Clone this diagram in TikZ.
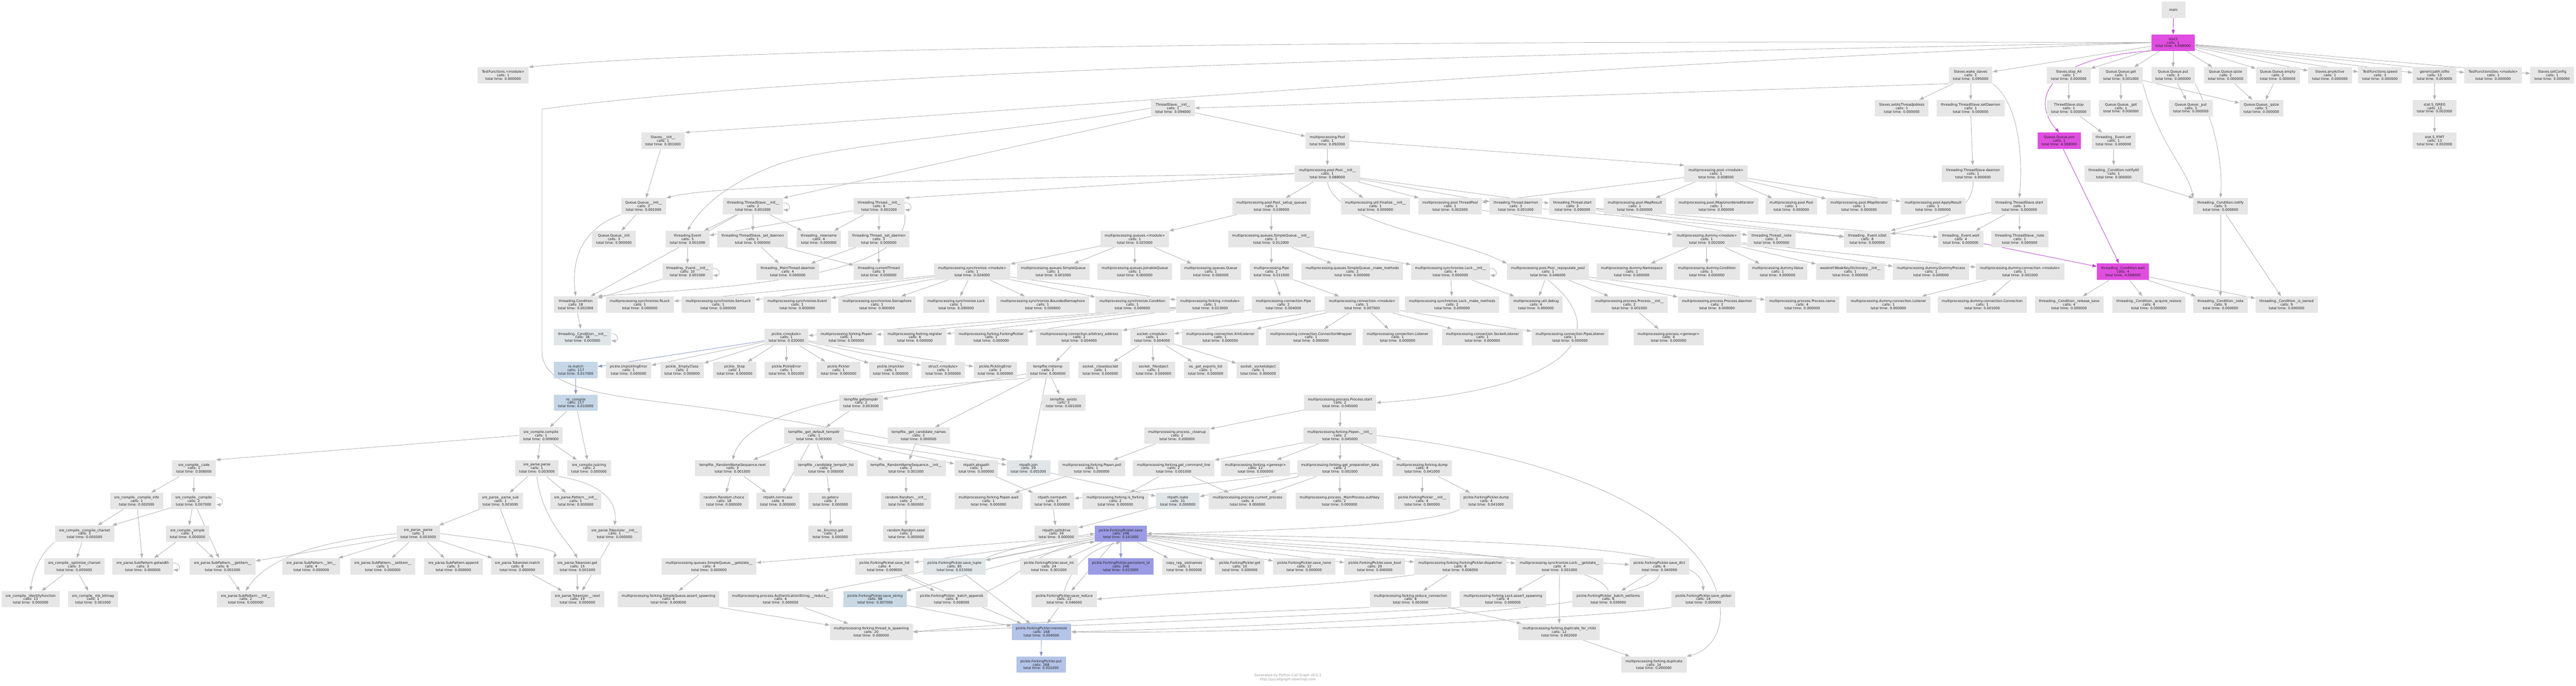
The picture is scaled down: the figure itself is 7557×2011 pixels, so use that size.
\documentclass[tikz,border=0pt]{standalone}
\usepackage{fontspec}
\setmainfont{DejaVu Sans}
\usetikzlibrary{arrows.meta}
\definecolor{ng}{RGB}{230,230,230}
\definecolor{nb}{RGB}{224,229,231}
\definecolor{nm}{RGB}{224,78,224}
\definecolor{nblue}{RGB}{197,214,230}
\definecolor{nper}{RGB}{180,196,232}
\definecolor{npur}{RGB}{155,155,228}
\definecolor{nsb}{RGB}{201,217,228}
\definecolor{eg}{RGB}{178,178,178}
\definecolor{emc}{RGB}{184,70,204}
\definecolor{ebl}{RGB}{140,150,200}
\definecolor{tx}{RGB}{30,30,30}
\pgfdeclarelayer{bg}
\pgfsetlayers{bg,main}
\tikzset{
 fn/.style={rectangle, fill=ng, draw=none, minimum height=24pt, minimum width=36pt, inner xsep=6pt, inner ysep=2pt, align=center, font=\fontsize{5}{5.15}\selectfont, text=tx},
 e/.style={draw=eg, line width=0.65pt, -{Triangle[length=6.5pt,width=4.6pt]}},
 em/.style={e, draw=emc},
 eb/.style={e, draw=ebl},
}
\newcommand\cg[7][ng]{\node[fn, fill=#1] (#2) at (#3,#4) {\detokenize{#5}\\calls: #6\\total time: #7};}
\newcommand\selfloop[1]{\draw[e] ([yshift=5pt]#1.east) .. controls +(11pt,1pt) and +(11pt,-1pt) .. ([yshift=-5pt]#1.east);}
\begin{document}
\begin{tikzpicture}[x=0.5pt,y=-0.5pt]
\useasboundingbox (0,0) rectangle (7557,2011);
% row 0-1
\node[fn, minimum width=35pt] (main) at (6376,29) {main};
\cg[nm]{test3}{6375}{125}{test3}{1}{4.698000}
% row 2
\cg{tfmod}{1476}{221}{TestFunctions.<module>}{1}{0.000000}
\cg{wake}{5781}{221}{Slaves.wake_slaves}{1}{0.095000}
\cg{stopall}{6069}{221}{Slaves.stop_All}{1}{0.000000}
\cg{qget}{6222}{221}{Queue.Queue.get}{1}{0.001000}
\cg{qput}{6375}{221}{Queue.Queue.put}{3}{0.000000}
\cg{qqsize}{6529}{221}{Queue.Queue.qsize}{2}{0.000000}
\cg{qempty}{6682}{221}{Queue.Queue.empty}{2}{0.000000}
\cg{anyact}{6835}{221}{Slaves.anyActive}{1}{0.000000}
\cg{speed}{6982}{221}{TestFunctions.speed}{3}{0.000000}
\cg{isfile}{7142}{221}{genericpath.isfile}{13}{0.003000}
\cg{tfgeo}{7314}{221}{TestFunctionsGeo.<module>}{1}{0.000000}
\cg{setcfg}{7487}{221}{Slaves.setConfig}{1}{0.000000}
% row 3
\cg{tsinit}{3441}{317}{ThreadSlave.__init__}{1}{0.094000}
\cg{jobless}{5579}{317}{Slaves.setAsThreadJobless}{1}{0.000000}
\cg{tssetd}{5781}{317}{threading.ThreadSlave.setDaemon}{1}{0.000000}
\cg{tsstop}{6069}{317}{ThreadSlave.stop}{1}{0.000000}
\cg{qgetp}{6222}{317}{Queue.Queue._get}{1}{0.000000}
\cg{qputp}{6427}{317}{Queue.Queue._put}{3}{0.000000}
\cg{qqsizep}{6634}{317}{Queue.Queue._qsize}{5}{0.000000}
\cg{isreg}{7142}{317}{stat.S_ISREG}{13}{0.002000}
% row 4
\cg{slinit}{1945}{413}{Slaves.__init__}{1}{0.001000}
\cg{mpPool}{3894}{413}{multiprocessing.Pool}{1}{0.092000}
\cg[nm]{qjoin}{6041}{413}{Queue.Queue.join}{1}{4.588000}
\cg{evset}{6200}{413}{threading._Event.set}{1}{0.000000}
\cg{ifmt}{7142}{413}{stat.S_IFMT}{13}{0.002000}
% row 5
\cg{poolinit}{3894}{509}{multiprocessing.pool.Pool.__init__}{1}{0.088000}
\cg{poolmod}{5034}{509}{multiprocessing.pool.<module>}{1}{0.008000}
\cg{tsdaemon}{5788}{509}{threading.ThreadSlave.daemon}{1}{0.000000}
\cg{notifyall}{6201}{509}{threading._Condition.notifyAll}{1}{0.000000}
% row 6
\cg{qqinit}{1888}{605}{Queue.Queue.__init__}{3}{0.001000}
\cg{thtsinit}{2209}{605}{threading.ThreadSlave.__init__}{2}{0.001000}
\cg{thinit}{2579}{605}{threading.Thread.__init__}{6}{0.001000}
\cg{setupq}{3730}{605}{multiprocessing.pool.Pool._setup_queues}{1}{0.039000}
\cg{finalize}{4035}{605}{multiprocessing.util.Finalize.__init__}{1}{0.000000}
\cg{threadpool}{4254}{605}{multiprocessing.pool.ThreadPool}{1}{0.002000}
\cg{thdaemon}{4447}{605}{threading.Thread.daemon}{3}{0.001000}
\cg{thstart}{4613}{605}{threading.Thread.start}{3}{0.000000}
\cg{mapres}{4796}{605}{multiprocessing.pool.MapResult}{1}{0.000000}
\cg{imapun}{5035}{605}{multiprocessing.pool.IMapUnorderedIterator}{1}{0.000000}
\cg{poolpool}{5255}{605}{multiprocessing.pool.Pool}{1}{0.000000}
\cg{imapit}{5454}{605}{multiprocessing.pool.IMapIterator}{1}{0.000000}
\cg{applyres}{5671}{605}{multiprocessing.pool.ApplyResult}{1}{0.000000}
\cg{tsstart}{5924}{605}{threading.ThreadSlave.start}{1}{0.000000}
\cg{notify}{6514}{605}{threading._Condition.notify}{5}{0.000000}
% row 7
\cg{qqinitp}{1801}{701}{Queue.Queue._init}{3}{0.000000}
\cg{thevent}{2017}{701}{threading.Event}{5}{0.001000}
\cg{tssetdp}{2208}{701}{threading.ThreadSlave._set_daemon}{1}{0.000000}
\cg{newname}{2402}{701}{threading._newname}{4}{0.000000}
\cg{thsetd}{2578}{701}{threading.Thread._set_daemon}{3}{0.000000}
\cg{queuesmod}{3329}{701}{multiprocessing.queues.<module>}{1}{0.025000}
\cg{sqinit}{3729}{701}{multiprocessing.queues.SimpleQueue.__init__}{2}{0.012000}
\cg{dummymod}{5007}{701}{multiprocessing.dummy.<module>}{1}{0.002000}
\cg{thnote}{5197}{701}{threading.Thread._note}{3}{0.000000}
\cg{isset}{5478}{701}{threading._Event.isSet}{8}{0.000000}
\cg{evwait}{5752}{701}{threading._Event.wait}{4}{0.000000}
\cg{tsnote}{5925}{701}{threading.ThreadSlave._note}{1}{0.000000}
% row 8
\cg{evinit}{2017}{797}{threading._Event.__init__}{10}{0.001000}
\cg{mtdaemon}{2311}{797}{threading._MainThread.daemon}{4}{0.000000}
\cg{curthread}{2578}{797}{threading.currentThread}{5}{0.000000}
\cg{syncmod}{2852}{797}{multiprocessing.synchronize.<module>}{1}{0.024000}
\cg{simpleq}{3090}{797}{multiprocessing.queues.SimpleQueue}{1}{0.001000}
\cg{joinq}{3329}{797}{multiprocessing.queues.JoinableQueue}{1}{0.000000}
\cg{queueq}{3552}{797}{multiprocessing.queues.Queue}{1}{0.000000}
\cg{mppipe}{3730}{797}{multiprocessing.Pipe}{2}{0.011000}
\cg{sqmake}{3967}{797}{multiprocessing.queues.SimpleQueue._make_methods}{2}{0.000000}
\cg{lockinit}{4255}{797}{multiprocessing.synchronize.Lock.__init__}{4}{0.000000}
\cg{repop}{4541}{797}{multiprocessing.pool.Pool._repopulate_pool}{1}{0.046000}
\cg{dnamespace}{4787}{797}{multiprocessing.dummy.Namespace}{1}{0.000000}
\cg{dcond}{5007}{797}{multiprocessing.dummy.Condition}{1}{0.000000}
\cg{dvalue}{5215}{797}{multiprocessing.dummy.Value}{1}{0.000000}
\cg{wkd}{5428}{797}{weakref.WeakKeyDictionary.__init__}{1}{0.000000}
\cg{dproc}{5665}{797}{multiprocessing.dummy.DummyProcess}{1}{0.000000}
\cg{dconnmod}{5926}{797}{multiprocessing.dummy.connection.<module>}{1}{0.001000}
\cg[nm]{condwait}{6228}{797}{threading._Condition.wait}{4}{4.588000}
% row 9
\cg{thcond}{1689}{893}{threading.Condition}{18}{0.002000}
\cg{rlock}{1877}{893}{multiprocessing.synchronize.RLock}{1}{0.000000}
\cg{semlock}{2107}{893}{multiprocessing.synchronize.SemLock}{1}{0.000000}
\cg{syncevent}{2339}{893}{multiprocessing.synchronize.Event}{1}{0.000000}
\cg{sema}{2573}{893}{multiprocessing.synchronize.Semaphore}{1}{0.000000}
\cg{synclock}{2805}{893}{multiprocessing.synchronize.Lock}{1}{0.000000}
\cg{bsema}{3059}{893}{multiprocessing.synchronize.BoundedSemaphore}{1}{0.000000}
\cg{synccond}{3322}{893}{multiprocessing.synchronize.Condition}{1}{0.000000}
\cg{forkmod}{3550}{893}{multiprocessing.forking.<module>}{1}{0.023000}
\cg{connpipe}{3765}{893}{multiprocessing.connection.Pipe}{2}{0.004000}
\cg{connmod}{3996}{893}{multiprocessing.connection.<module>}{1}{0.007000}
\cg{lockmake}{4260}{893}{multiprocessing.synchronize.Lock._make_methods}{2}{0.000000}
\cg{udebug}{4506}{893}{multiprocessing.util.debug}{4}{0.000000}
\cg{procinit}{4780}{893}{multiprocessing.process.Process.__init__}{2}{0.001000}
\cg{procdaemon}{5037}{893}{multiprocessing.process.Process.daemon}{2}{0.000000}
\cg{procname}{5287}{893}{multiprocessing.process.Process.name}{4}{0.000000}
\cg{dlistener}{5540}{893}{multiprocessing.dummy.connection.Listener}{1}{0.000000}
\cg{dconn}{5815}{893}{multiprocessing.dummy.connection.Connection}{1}{0.001000}
\cg{relsave}{6070}{893}{threading._Condition._release_save}{4}{0.000000}
\cg{acqrest}{6304}{893}{threading._Condition._acquire_restore}{4}{0.000000}
\cg{condnote}{6514}{893}{threading._Condition._note}{9}{0.000000}
\cg{isowned}{6708}{893}{threading._Condition._is_owned}{9}{0.000000}
% row 10
\cg[nb]{condinit}{1709}{989}{threading._Condition.__init__}{36}{0.003000}
\cg{picklemod}{2307}{989}{pickle.<module>}{1}{0.020000}
\cg{popen}{2483}{989}{multiprocessing.forking.Popen}{1}{0.000000}
\cg{register}{2684}{989}{multiprocessing.forking.register}{6}{0.000000}
\cg{fpickler}{2908}{989}{multiprocessing.forking.ForkingPickler}{1}{0.000000}
\cg{arbaddr}{3166}{989}{multiprocessing.connection.arbitrary_address}{2}{0.004000}
\cg{socketmod}{3380}{989}{socket.<module>}{1}{0.004000}
\cg{xmllist}{3580}{989}{multiprocessing.connection.XmlListener}{1}{0.000000}
\cg{connwrap}{3846}{989}{multiprocessing.connection.ConnectionWrapper}{1}{0.000000}
\cg{listener}{4100}{989}{multiprocessing.connection.Listener}{1}{0.000000}
\cg{socklist}{4349}{989}{multiprocessing.connection.SocketListener}{1}{0.000000}
\cg{pipelist}{4606}{989}{multiprocessing.connection.PipeListener}{1}{0.000000}
\cg{procgen}{4895}{989}{multiprocessing.process.<genexpr>}{4}{0.000000}
% row 11
\cg[nblue]{rematch}{1689}{1085}{re.match}{117}{0.017000}
\cg{unpickerr}{1844}{1085}{pickle.UnpicklingError}{1}{0.000000}
\cg{emptycls}{2001}{1085}{pickle._EmptyClass}{1}{0.000000}
\cg{pstop}{2155}{1085}{pickle._Stop}{1}{0.000000}
\cg{pickerr}{2307}{1085}{pickle.PickleError}{1}{0.001000}
\cg{pickler}{2460}{1085}{pickle.Pickler}{1}{0.000000}
\cg{unpickler}{2613}{1085}{pickle.Unpickler}{1}{0.000000}
\cg{structmod}{2767}{1085}{struct.<module>}{1}{0.000000}
\cg{picklingerr}{2920}{1085}{pickle.PicklingError}{1}{0.000000}
\cg{mktemp}{3074}{1085}{tempfile.mktemp}{2}{0.004000}
\cg{closedsock}{3228}{1085}{socket._closedsocket}{1}{0.000000}
\cg{fileobj}{3384}{1085}{socket._fileobject}{1}{0.000000}
\cg{getexports}{3537}{1085}{os._get_exports_list}{1}{0.000000}
\cg{sockobj}{3691}{1085}{socket._socketobject}{1}{0.000000}
% row 12
\cg[nblue]{recompile}{1689}{1181}{re._compile}{117}{0.010000}
\cg{gettempdir}{2526}{1181}{tempfile.gettempdir}{2}{0.003000}
\cg{texists}{3120}{1181}{tempfile._exists}{2}{0.001000}
\cg{procstart}{3931}{1181}{multiprocessing.process.Process.start}{2}{0.045000}
% row 13
\cg{srecompile}{1587}{1277}{sre_compile.compile}{1}{0.009000}
\cg{defaulttmp}{2388}{1277}{tempfile._get_default_tempdir}{1}{0.003000}
\cg{candnames}{2695}{1277}{tempfile._get_candidate_names}{2}{0.000000}
\cg{cleanup}{3453}{1277}{multiprocessing.process._cleanup}{2}{0.000000}
\cg{popeninit}{3931}{1277}{multiprocessing.forking.Popen.__init__}{2}{0.045000}
% row 14
\cg{srecode}{569}{1373}{sre_compile._code}{1}{0.006000}
\cg{sreparse}{1575}{1373}{sre_parse.parse}{1}{0.003000}
\cg{isstring}{1728}{1373}{sre_compile.isstring}{2}{0.000000}
\cg{rnsnext}{2149}{1373}{tempfile._RandomNameSequence.next}{3}{0.001000}
\cg{candlist}{2423}{1373}{tempfile._candidate_tempdir_list}{1}{0.000000}
\cg{rnsinit}{2658}{1373}{tempfile._RandomNameSequence.__init__}{2}{0.001000}
\cg{abspath}{2864}{1373}{ntpath.abspath}{1}{0.000000}
\cg[nb]{npjoin}{3017}{1373}{ntpath.join}{29}{0.001000}
\cg{ppoll}{3203}{1373}{multiprocessing.forking.Popen.poll}{1}{0.000000}
\cg{getcmd}{3443}{1373}{multiprocessing.forking.get_command_line}{2}{0.001000}
\cg{forkgen}{3683}{1373}{multiprocessing.forking.<genexpr>}{12}{0.000000}
\cg{getprep}{3931}{1373}{multiprocessing.forking.get_preparation_data}{2}{0.001000}
\cg{forkdump}{4172}{1373}{multiprocessing.forking.dump}{4}{0.041000}
% row 15
\cg{compinfo}{401}{1469}{sre_compile._compile_info}{1}{0.002000}
\cg{srecomp}{568}{1469}{sre_compile._compile}{2}{0.007000}
\cg{parsesub}{1468}{1469}{sre_parse._parse_sub}{1}{0.003000}
\cg{patinit}{1689}{1469}{sre_parse.Pattern.__init__}{1}{0.000000}
\cg{rchoice}{2124}{1469}{random.Random.choice}{18}{0.000000}
\cg{normcase}{2282}{1469}{ntpath.normcase}{4}{0.000000}
\cg{getenv}{2436}{1469}{os.getenv}{3}{0.000000}
\cg{rinit}{2658}{1469}{random.Random.__init__}{2}{0.000000}
\cg{pwait}{2900}{1469}{multiprocessing.forking.Popen.wait}{1}{0.000000}
\cg{normpath}{3087}{1469}{ntpath.normpath}{3}{0.000000}
\cg{isforking}{3272}{1469}{multiprocessing.forking.is_forking}{2}{0.000000}
\cg[nb]{isabs}{3455}{1469}{ntpath.isabs}{31}{0.000000}
\cg{curproc}{3660}{1469}{multiprocessing.process.current_process}{4}{0.000000}
\cg{authkey}{3930}{1469}{multiprocessing.process._MainProcess.authkey}{2}{0.000000}
\cg{fpinit}{4172}{1469}{pickle.ForkingPickler.__init__}{4}{0.000000}
\cg{fpdump}{4360}{1469}{pickle.ForkingPickler.dump}{4}{0.041000}
% row 16
\cg{charset}{248}{1565}{sre_compile._compile_charset}{3}{0.005000}
\cg{simple}{550}{1565}{sre_compile._simple}{1}{0.000000}
\cg{parsep}{1227}{1565}{sre_parse._parse}{1}{0.003000}
\cg{tokinit}{1803}{1565}{sre_parse.Tokenizer.__init__}{1}{0.000000}
\cg{envget}{2436}{1565}{os._Environ.get}{3}{0.000000}
\cg{rseed}{2658}{1565}{random.Random.seed}{2}{0.000000}
\cg{splitdrive}{3099}{1565}{ntpath.splitdrive}{34}{0.000000}
\cg[npur]{fpsave}{3288}{1565}{pickle.ForkingPickler.save}{246}{0.161000}
% row 17
\cg{optcharset}{218}{1661}{sre_compile._optimize_charset}{3}{0.005000}
\cg{getwidth}{419}{1661}{sre_parse.SubPattern.getwidth}{3}{0.000000}
\cg{getitem}{653}{1661}{sre_parse.SubPattern.__getitem__}{6}{0.001000}
\cg{splen}{913}{1661}{sre_parse.SubPattern.__len__}{4}{0.000000}
\cg{setitem}{1123}{1661}{sre_parse.SubPattern.__setitem__}{1}{0.000000}
\cg{spappend}{1330}{1661}{sre_parse.SubPattern.append}{3}{0.000000}
\cg{tokmatch}{1518}{1661}{sre_parse.Tokenizer.match}{8}{0.000000}
\cg{tokget}{1694}{1661}{sre_parse.Tokenizer.get}{15}{0.001000}
\cg{sqgetstate}{2080}{1661}{multiprocessing.queues.SimpleQueue.__getstate__}{4}{0.000000}
\cg{savelist}{2595}{1661}{pickle.ForkingPickler.save_list}{4}{0.009000}
\cg[nb]{savetuple}{2800}{1661}{pickle.ForkingPickler.save_tuple}{85}{0.033000}
\cg{saveint}{3077}{1661}{pickle.ForkingPickler.save_int}{24}{0.001000}
\cg[npur]{persid}{3288}{1661}{pickle.ForkingPickler.persistent_id}{246}{0.023000}
\cg{slotnames}{3474}{1661}{copy_reg._slotnames}{1}{0.000000}
\cg{fpget}{3637}{1661}{pickle.ForkingPickler.get}{10}{0.000000}
\cg{savenone}{3826}{1661}{pickle.ForkingPickler.save_none}{12}{0.000000}
\cg{savebool}{4033}{1661}{pickle.ForkingPickler.save_bool}{20}{0.000000}
\cg{dispatcher}{4284}{1661}{multiprocessing.forking.ForkingPickler.dispatcher}{8}{0.006000}
\cg{lockgetstate}{4575}{1661}{multiprocessing.synchronize.Lock.__getstate__}{4}{0.001000}
\cg{savedict}{4868}{1661}{pickle.ForkingPickler.save_dict}{6}{0.040000}
% row 18
\cg{identity}{90}{1757}{sre_compile._identityfunction}{13}{0.000000}
\cg{mkbitmap}{273}{1757}{sre_compile._mk_bitmap}{1}{0.001000}
\cg{spinit}{721}{1757}{sre_parse.SubPattern.__init__}{2}{0.000000}
\cg{toknext}{1694}{1757}{sre_parse.Tokenizer.__next}{19}{0.000000}
\cg{sqassert}{1961}{1757}{multiprocessing.forking.SimpleQueue.assert_spawning}{4}{0.000000}
\cg{authreduce}{2290}{1757}{multiprocessing.process.AuthenticationString.__reduce__}{4}{0.000000}
\cg[nsb]{savestring}{2567}{1757}{pickle.ForkingPickler.save_string}{98}{0.007000}
\cg{batchapp}{2792}{1757}{pickle.ForkingPickler._batch_appends}{4}{0.008000}
\cg{savereduce}{3122}{1757}{pickle.ForkingPickler.save_reduce}{22}{0.046000}
\cg{reduceconn}{4138}{1757}{multiprocessing.forking.reduce_connection}{8}{0.003000}
\cg{lockassert}{4409}{1757}{multiprocessing.forking.Lock.assert_spawning}{4}{0.000000}
\cg{batchset}{4718}{1757}{pickle.ForkingPickler._batch_setitems}{6}{0.039000}
\cg{saveglobal}{4997}{1757}{pickle.ForkingPickler.save_global}{14}{0.000000}
% row 19-20
\cg{threadspawn}{2556}{1853}{multiprocessing.forking.thread_is_spawning}{20}{0.000000}
\cg[nper]{memoize}{3055}{1853}{pickle.ForkingPickler.memoize}{168}{0.004000}
\cg{dupchild}{4574}{1853}{multiprocessing.forking.duplicate_for_child}{12}{0.002000}
\cg[nper]{fpput}{3054}{1949}{pickle.ForkingPickler.put}{168}{0.001000}
\cg{duplicate}{4852}{1949}{multiprocessing.forking.duplicate}{14}{0.000000}
% caption
\node[align=center, font=\fontsize{5}{5.6}\selectfont, text={rgb,255:red,150;green,150;blue,150}] (caption) at (3778,1987) {Generated by Python Call Graph v0.5.1\\http://pycallgraph.slowchop.com};

\begin{pgfonlayer}{bg}
\fill[white] (0,0) rectangle (7557,2011);
\draw[em] (main) -- (test3);
\foreach \t in {wake,stopall,qget,qput,qqsize,qempty,anyact,speed,isfile,tfgeo,setcfg} \draw[e] (test3) -- (\t);
\draw[em] (test3.south west) .. controls (5990,170) and (5960,300) .. (qjoin.north);
\draw[e] (test3.west) .. controls (4200,118) and (2200,135) .. (tfmod.north east);
\draw[e] (test3.west) .. controls (4600,190) and (3200,310) .. (slinit.north east);
\draw[e] (test3.west) .. controls (3700,170) and (2300,226) .. (1590,320) -- (1590,1030) .. controls (1590,1150) and (1800,1160) .. (2100,1200) .. controls (2450,1250) and (2650,1300) .. (npjoin.north west);
\foreach \t in {jobless,tssetd} \draw[e] (wake) -- (\t);
\draw[e] (wake.south east) .. controls (5920,300) and (5935,450) .. (tsstart.north);
\draw[e] (wake.south west) -- (tsinit.east);
\draw[e] (stopall) -- (tsstop); \draw[e] (tsstop) -- (evset);
\foreach \t in {qgetp,qqsizep} \draw[e] (qget) -- (\t);
\draw[e] (qget.south east) .. controls (6330,420) and (6420,500) .. (notify.north west);
\draw[e] (qput) -- (qputp);
\draw[e] (qput.south east) .. controls (6500,360) and (6520,480) .. (notify.north);
\draw[e] (qqsize) -- (qqsizep); \draw[e] (qempty) -- (qqsizep);
\draw[e] (isfile) -- (isreg); \draw[e] (isreg) -- (ifmt);
\draw[em] (qjoin) -- (condwait);
\draw[e] (evset) -- (notifyall); \draw[e] (notifyall) -- (notify);
\draw[e] (tssetd) -- (tsdaemon);
\draw[e] (tsdaemon.south) .. controls (5790,640) and (5640,650) .. (isset.north east);
\foreach \t in {isset,evwait,tsnote} \draw[e] (tsstart) -- (\t);
\draw[em] (evwait) -- (condwait);
\foreach \t in {relsave,acqrest,condnote,isowned} \draw[e] (condwait) -- (\t);
\foreach \t in {condnote,isowned} \draw[e] (notify) -- (\t);
\draw[e] (tsinit) -- (mpPool);
\draw[e] (tsinit.south west) -- (thtsinit.north east);
\draw[e] (tsinit.west) .. controls (2950,390) and (2450,420) .. (2280,483) .. controls (2150,530) and (2060,600) .. (thevent.north);
\draw[e] (slinit) -- (qqinit);
\draw[e] (mpPool) -- (poolinit);
\draw[e] (mpPool.east) -- (poolmod.north west);
\foreach \t in {setupq,finalize,threadpool,thdaemon,thstart} \draw[e] (poolinit) -- (\t);
\draw[e] (poolinit.west) .. controls (3000,520) and (2100,540) .. (qqinit.north east);
\draw[e] (poolinit.west) -- (thinit.north east);
\draw[e] (poolinit.south) .. controls (3920,660) and (4250,690) .. (repop.north west);
\foreach \t in {threadpool,mapres,imapun,poolpool,imapit,applyres} \draw[e] (poolmod) -- (\t);
\draw[e] (threadpool) -- (dummymod);
\foreach \t in {thnote,isset,evwait} \draw[e] (thstart) -- (\t);
\draw[e] (thdaemon) -- (isset);
\foreach \t in {dnamespace,dcond,dvalue,wkd,dproc,dconnmod} \draw[e] (dummymod) -- (\t);
\foreach \t in {dlistener,dconn} \draw[e] (dconnmod) -- (\t);
\draw[e] (qqinit) -- (qqinitp);
\draw[e] (qqinit.south west) .. controls (1680,680) and (1680,800) .. (thcond.north);
\foreach \t in {thevent,tssetdp,newname} \draw[e] (thtsinit) -- (\t);
\draw[e] (thtsinit) -- (thcond);
\selfloop{thtsinit}
\foreach \t in {newname,thsetd,thevent} \draw[e] (thinit) -- (\t);
\draw[e] (thinit.south east) .. controls (2680,830) and (2000,850) .. (thcond.north east);
\selfloop{thinit}
\draw[e] (thevent) -- (evinit);
\draw[e] (evinit) -- (thcond);
\selfloop{evinit}
\foreach \t in {mtdaemon,curthread} \draw[e] (tssetdp) -- (\t);
\foreach \t in {mtdaemon,curthread} \draw[e] (thsetd) -- (\t);
\draw[e] (thcond) -- (condinit);
\selfloop{condinit}
\foreach \t in {queuesmod,sqinit} \draw[e] (setupq) -- (\t);
\foreach \t in {syncmod,simpleq,joinq,queueq} \draw[e] (queuesmod) -- (\t);
\foreach \t in {mppipe,sqmake,lockinit} \draw[e] (sqinit) -- (\t);
\foreach \t in {rlock,semlock,syncevent,sema,synclock,bsema,synccond,forkmod} \draw[e] (syncmod) -- (\t);
\foreach \t in {connpipe,connmod} \draw[e] (mppipe) -- (\t);
\foreach \t in {picklemod,popen,register,fpickler} \draw[e] (forkmod) -- (\t);
\draw[e] (connpipe) -- (arbaddr);
\foreach \t in {socketmod,xmllist,connwrap,listener,socklist,pipelist} \draw[e] (connmod) -- (\t);
\draw[e] (arbaddr) -- (mktemp);
\foreach \t in {closedsock,fileobj,getexports,sockobj} \draw[e] (socketmod) -- (\t);
\draw[eb] (picklemod) -- (rematch);
\foreach \t in {unpickerr,emptycls,pstop,pickerr,pickler,unpickler,structmod,picklingerr} \draw[e] (picklemod) -- (\t);
\foreach \t in {lockmake,udebug} \draw[e] (lockinit) -- (\t);
\selfloop{lockinit}
\foreach \t in {udebug,procinit,procdaemon,procname} \draw[e] (repop) -- (\t);
\draw[e] (repop.south) .. controls (4720,960) and (4650,1140) .. (procstart.east);
\draw[e] (procinit) -- (procgen);
\draw[eb] (rematch) -- (recompile);
\foreach \t in {srecompile,isstring} \draw[e] (recompile) -- (\t);
\foreach \t in {sreparse,isstring} \draw[e] (srecompile) -- (\t);
\draw[e] (srecompile.west) -- (srecode.north east);
\foreach \t in {parsesub,patinit} \draw[e] (sreparse) -- (\t);
\draw[e] (sreparse.south east) .. controls (1780,1420) and (1810,1480) .. (tokinit.north);
\draw[e] (sreparse.south) .. controls (1590,1520) and (1660,1580) .. (tokget.north);
\draw[e] (parsesub) -- (parsep);
\draw[e] (parsesub.south) .. controls (1490,1550) and (1510,1600) .. (tokmatch.north);
\foreach \t in {getitem,splen,setitem,spappend,tokmatch} \draw[e] (parsep) -- (\t);
\draw[e] (parsep.east) .. controls (1500,1590) and (1640,1610) .. (tokget.north west);
\draw[e] (parsep.west) .. controls (900,1590) and (775,1650) .. (spinit.north);
\foreach \t in {tokinit,tokmatch,tokget} \draw[e] (\t) -- (toknext);
\foreach \t in {compinfo,srecomp} \draw[e] (srecode) -- (\t);
\foreach \t in {charset,getwidth} \draw[e] (compinfo) -- (\t);
\foreach \t in {charset,simple,getitem} \draw[e] (srecomp) -- (\t);
\selfloop{srecomp}
\foreach \t in {optcharset} \draw[e] (charset) -- (\t);
\draw[e] (charset.south west) .. controls (120,1620) and (95,1680) .. (identity.north);
\foreach \t in {identity,mkbitmap} \draw[e] (optcharset) -- (\t);
\foreach \t in {getwidth,getitem} \draw[e] (simple) -- (\t);
\selfloop{getwidth}
\draw[e] (getitem) -- (spinit);
\foreach \t in {gettempdir,candnames,texists,npjoin} \draw[e] (mktemp) -- (\t);
\draw[e] (mktemp.south west) .. controls (2700,1130) and (2200,1170) .. (rnsnext.north);
\draw[e] (gettempdir) -- (defaulttmp);
\foreach \t in {rnsnext,normcase,candlist,rnsinit,abspath,npjoin} \draw[e] (defaulttmp) -- (\t);
\draw[e] (candnames) -- (rnsinit);
\foreach \t in {rchoice,normcase} \draw[e] (rnsnext) -- (\t);
\draw[e] (candlist) -- (getenv); \draw[e] (getenv) -- (envget);
\draw[e] (rnsinit) -- (rinit); \draw[e] (rinit) -- (rseed);
\draw[e] (abspath) -- (normpath); \draw[e] (normpath) -- (splitdrive);
\draw[e] (npjoin) -- (isabs); \draw[e] (isabs) -- (splitdrive);
\draw[e] (ppoll) -- (pwait);
\foreach \t in {cleanup,popeninit} \draw[e] (procstart) -- (\t);
\draw[e] (cleanup) -- (ppoll);
\foreach \t in {getcmd,forkgen,getprep,forkdump} \draw[e] (popeninit) -- (\t);
\draw[e] (popeninit.east) .. controls (5130,1400) and (5140,1880) .. (duplicate.north east);
\foreach \t in {isforking,curproc} \draw[e] (getcmd) -- (\t);
\foreach \t in {isabs,curproc,authkey,normpath} \draw[e] (getprep) -- (\t);
\foreach \t in {fpinit,fpdump} \draw[e] (forkdump) -- (\t);
\draw[e] (fpdump.south west) .. controls (4200,1545) and (3600,1560) .. (fpsave.east);
\draw[eb] (fpsave) -- (persid);
\foreach \t in {slotnames,fpget,savenone,savebool,dispatcher,lockgetstate,savedict,sqgetstate,savelist,savetuple,saveint,savestring,savereduce,authreduce} \draw[e] (fpsave) -- (\t);
\draw[e] (fpsave.east) .. controls (4500,1585) and (4990,1600) .. (saveglobal.north);
\draw[e] (savetuple.north east) .. controls (2950,1610) and (3100,1580) .. (fpsave.west);
\draw[e] (batchapp.north east) .. controls (2980,1700) and (3050,1600) .. (fpsave.south west);
\draw[e] (savereduce.north) .. controls (3150,1650) and (3200,1610) .. (fpsave.south);
\draw[e] (batchset.north) .. controls (4680,1610) and (3700,1580) .. (fpsave.east);
\foreach \t in {savetuple,savelist,savestring,savereduce} \draw[e] (\t) -- (memoize);
\draw[e] (savelist) -- (batchapp);
\draw[e] (savedict) -- (batchset);
\draw[e] (savedict.south) .. controls (4850,1800) and (3600,1840) .. (memoize.east);
\draw[e] (saveglobal.south west) .. controls (4600,1820) and (3600,1860) .. (memoize.east);
\draw[e] (dispatcher) -- (reduceconn);
\draw[e] (dispatcher.south west) .. controls (3900,1720) and (3400,1740) .. (savereduce.east);
\foreach \t in {lockassert,dupchild} \draw[e] (lockgetstate) -- (\t);
\draw[e] (reduceconn) -- (dupchild);
\draw[e] (reduceconn.south west) .. controls (3500,1800) and (2900,1830) .. (threadspawn.east);
\draw[e] (lockassert.south west) .. controls (3800,1810) and (3000,1840) .. (threadspawn.east);
\draw[e] (sqgetstate) -- (sqassert);
\foreach \t in {sqassert,authreduce} \draw[e] (\t) -- (threadspawn);
\draw[e] (dupchild) -- (duplicate);
\draw[eb] (memoize) -- (fpput);
\end{pgfonlayer}
\end{tikzpicture}
\end{document}
